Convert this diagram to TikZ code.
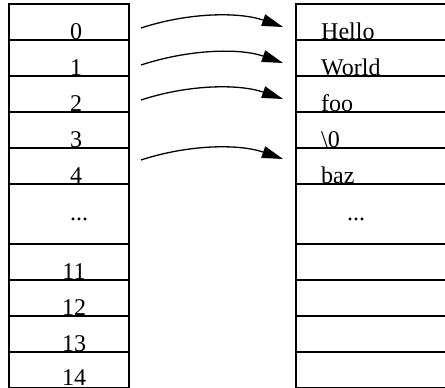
\documentclass[tikz,border=0pt]{standalone}
\usepackage{fontspec}
\setmainfont{Liberation Serif}
\usetikzlibrary{arrows.meta}
\begin{document}
\begin{tikzpicture}[x=1pt,y=-1pt,
  cell/.style={draw,line width=1.4pt,minimum width=120pt,minimum height=36pt,inner sep=0pt,outer sep=0pt,anchor=north west},
  tallcell/.style={cell,minimum height=60pt},
  rcell/.style={cell,minimum width=170pt},
  rtallcell/.style={rcell,minimum height=60pt},
  lab/.style={anchor=base,inner sep=0pt,font=\fontsize{24}{28}\selectfont},
  rlab/.style={anchor=base west,inner sep=0pt,font=\fontsize{24}{28}\selectfont},
  arr/.style={line width=1.3pt,-{Triangle[length=21pt,width=12pt]}}
]
\fill[white] (0,0) rectangle (445,388);
\clip (0,0) rectangle (445,388);
% left column
\node[cell] (L0) at (9,4) {};
\node[cell] (L1) at (9,40) {};
\node[cell] (L2) at (9,76) {};
\node[cell] (L3) at (9,112) {};
\node[cell] (L4) at (9,148) {};
\node[tallcell] (Ld) at (9,184) {};
\node[cell] (L11) at (9,244) {};
\node[cell] (L12) at (9,280) {};
\node[cell] (L13) at (9,316) {};
\node[cell] (L14) at (9,352) {};
% right column
\node[rcell] (R0) at (296,4) {};
\node[rcell] (R1) at (296,40) {};
\node[rcell] (R2) at (296,76) {};
\node[rcell] (R3) at (296,112) {};
\node[rcell] (R4) at (296,148) {};
\node[rtallcell] (Rd) at (296,184) {};
\node[rcell] (R11) at (296,244) {};
\node[rcell] (R12) at (296,280) {};
\node[rcell] (R13) at (296,316) {};
\node[rcell] (R14) at (296,352) {};
% left labels
\node[lab] (t0) at (76,39.5) {0};
\node[lab] (t1) at (76,75.5) {1};
\node[lab] (t2) at (76,111.5) {2};
\node[lab] (t3) at (76,147.5) {3};
\node[lab] (t4) at (76,183.5) {4};
\node[lab] (td) at (79,220) {...};
\node[lab] (t11) at (74,279.5) {11};
\node[lab] (t12) at (74,315.5) {12};
\node[lab] (t13) at (74,351.5) {13};
\node[lab] (t14) at (74,385) {14};
% right labels
\node[rlab] (s0) at (321,39.5) {Hello};
\node[rlab] (s1) at (321,75.5) {World};
\node[rlab] (s2) at (321,111.5) {foo};
\node[rlab] (s3) at (321,147.5) {\textbackslash 0};
\node[rlab] (s4) at (321,183.5) {baz};
\node[lab] (sd) at (356,220) {...};
% arrows
\draw[arr] ([shift={(12,6)}]L0.east) .. controls +(49,-16) and +(-43,-15) .. ([shift={(-13,5)}]R0.west);
\draw[arr] ([shift={(12,7)}]L1.east) .. controls +(49,-16) and +(-43,-15) .. ([shift={(-13,5)}]R1.west);
\draw[arr] ([shift={(12,6)}]L2.east) .. controls +(49,-16) and +(-43,-15) .. ([shift={(-13,5)}]R2.west);
\draw[arr] ([shift={(12,-6)}]L4.east) .. controls +(49,-16) and +(-43,-15) .. ([shift={(-13,-7)}]R4.west);
\end{tikzpicture}
\end{document}
